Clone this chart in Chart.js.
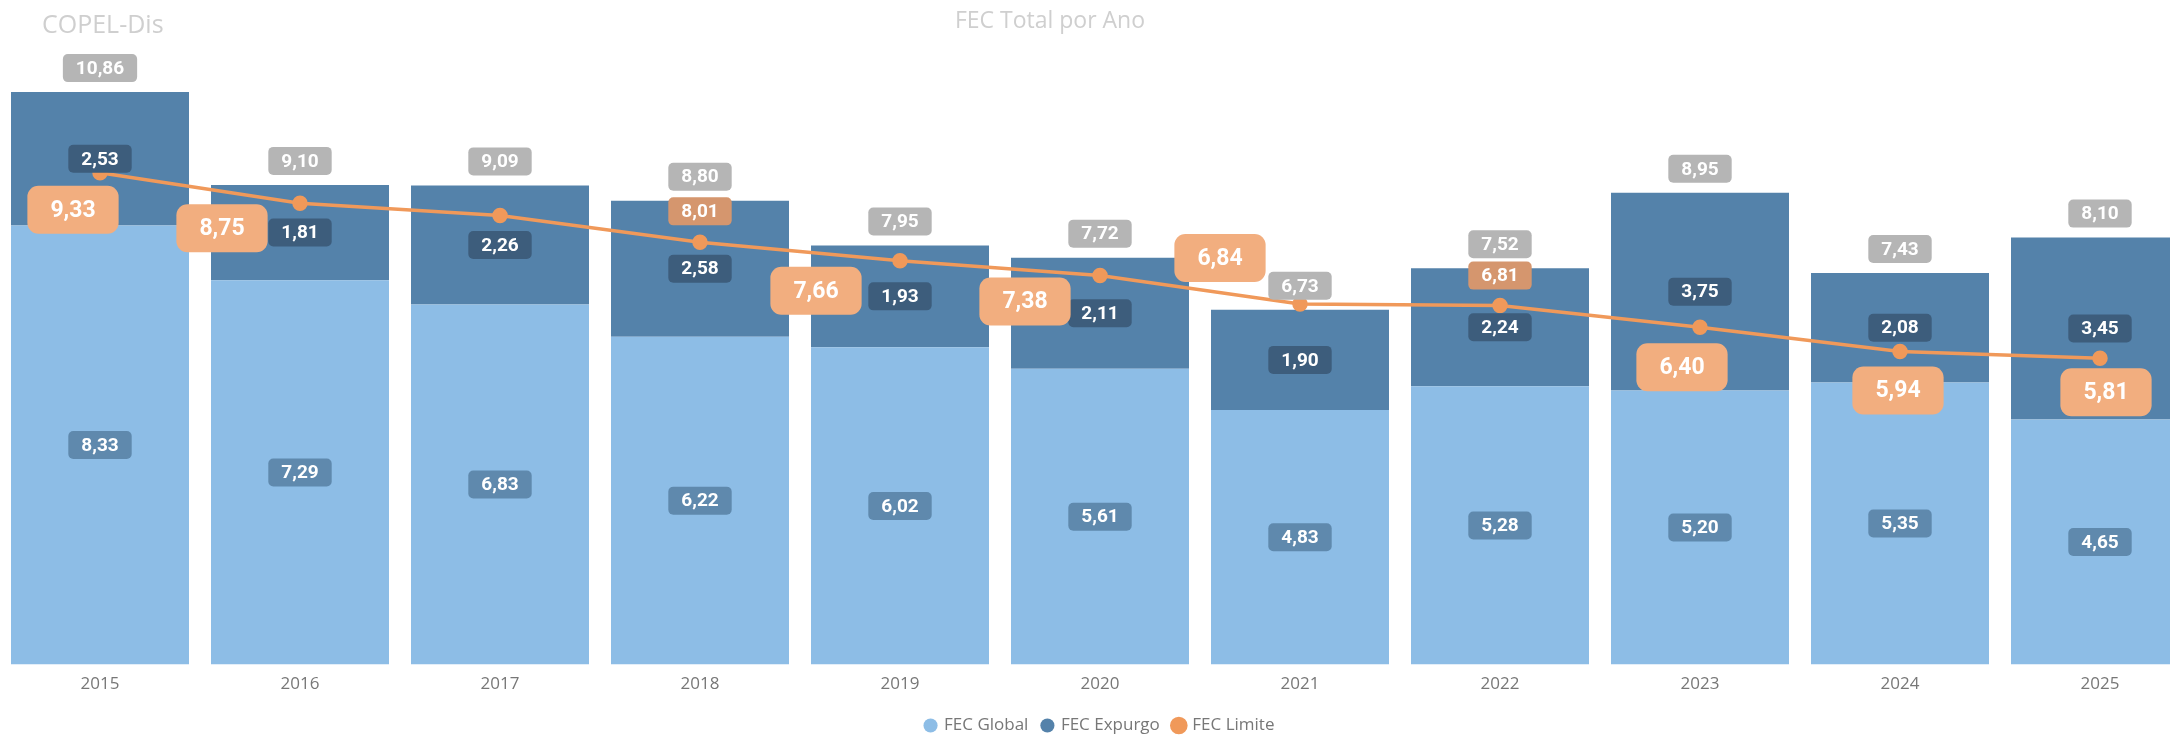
<!DOCTYPE html>
<html>
<head>
<meta charset="utf-8">
<script src="https://cdn.jsdelivr.net/npm/chart.js@4.4.1/dist/chart.umd.min.js"></script>
<style>
  html, body { margin: 0; padding: 0; background: #fff; overflow: hidden; width: 2170px; height: 739px; }
  #wrap { position: relative; width: 2200px; height: 739px; overflow: hidden; }
  .ttl { position: absolute; font-family: "Open Sans", sans-serif; color: #cfcfcf; white-space: nowrap; line-height: 1; }
</style>
</head>
<body>
<div id="wrap">
  <canvas id="fecChart" width="2200" height="744"></canvas>
  <div class="ttl" style="left:42px; top:11px; font-size:25px;">COPEL-Dis</div>
  <div class="ttl" style="left:1050px; top:8px; font-size:23px; transform:translateX(-50%);">FEC Total por Ano</div>
</div>
<script>
// dados
const anos = ['2015', '2016', '2017', '2018', '2019', '2020', '2021', '2022', '2023', '2024', '2025'];
const fecGlobal  = [8.33, 7.29, 6.83, 6.22, 6.02, 5.61, 4.83, 5.28, 5.20, 5.35, 4.65];
const fecExpurgo = [2.53, 1.81, 2.26, 2.58, 1.93, 2.11, 1.90, 2.24, 3.75, 2.08, 3.45];
const fecLimite  = [9.33, 8.75, 8.52, 8.01, 7.66, 7.38, 6.84, 6.81, 6.40, 5.94, 5.81];

// onde fica o rótulo do limite em relação ao ponto (null = sem rótulo)
const limiteTagPos = [
  { dx: -27, dy: 37 }, { dx: -78, dy: 25 }, null, { dx: 0, dy: -31, small: true },
  { dx: -84, dy: 30 }, { dx: -75, dy: 26 }, { dx: -80, dy: -46 }, { dx: 0, dy: -30, small: true },
  { dx: -18, dy: 40 }, { dx: -2, dy: 39 }, { dx: 6, dy: 34 }
];

const fmt = v => v.toFixed(2).replace('.', ',');

function tag(ctx, text, x, y, o) {
  ctx.font = o.font;
  const w = ctx.measureText(text).width + o.padX * 2;
  ctx.fillStyle = o.bg;
  ctx.beginPath();
  ctx.roundRect(x - w / 2, y - o.h / 2, w, o.h, o.r);
  ctx.fill();
  ctx.fillStyle = '#ffffff';
  ctx.textAlign = 'center';
  ctx.textBaseline = 'middle';
  ctx.fillText(text, x, y + 1);
}

const smallTag = { font: 'bold 19px Roboto', padX: 13, h: 28, r: 5 };
const bigTag = { font: 'bold 23px Roboto', padX: 23, h: 48, r: 11, bg: '#f2ae7f' };

const labelPlugin = {
  id: 'fecLabels',
  afterDatasetsDraw(chart) {
    const ctx = chart.ctx;
    const gMeta = chart.getDatasetMeta(0);
    const eMeta = chart.getDatasetMeta(1);
    const lMeta = chart.getDatasetMeta(2);
    ctx.save();
    gMeta.data.forEach((bar, i) => {
      tag(ctx, fmt(fecGlobal[i]), bar.x, (bar.y + bar.base) / 2, { ...smallTag, bg: '#5f89ad' });
    });
    eMeta.data.forEach((bar, i) => {
      tag(ctx, fmt(fecExpurgo[i]), bar.x, (bar.y + bar.base) / 2, { ...smallTag, bg: '#3d5d7c' });
      const total = fecGlobal[i] + fecExpurgo[i];
      tag(ctx, fmt(total), bar.x, bar.y - 24, { ...smallTag, bg: '#b5b5b5' });
    });
    lMeta.data.forEach((pt, i) => {
      const p = limiteTagPos[i];
      if (!p) return;
      if (p.small) tag(ctx, fmt(fecLimite[i]), pt.x + p.dx, pt.y + p.dy, { ...smallTag, bg: '#d5966e' });
      else tag(ctx, fmt(fecLimite[i]), pt.x + p.dx, pt.y + p.dy, bigTag);
    });
    ctx.restore();
  }
};

window.onload = function () {
  const ctx = document.getElementById('fecChart').getContext('2d');
  new Chart(ctx, {
    data: {
      labels: anos,
      datasets: [
        { type: 'bar', label: 'FEC Global', data: fecGlobal, backgroundColor: '#8dbde6', stack: 'fec', order: 1,
          barPercentage: 0.89, categoryPercentage: 1.0 },
        { type: 'bar', label: 'FEC Expurgo', data: fecExpurgo, backgroundColor: '#5482aa', stack: 'fec', order: 1,
          barPercentage: 0.89, categoryPercentage: 1.0 },
        { type: 'line', label: 'FEC Limite', data: fecLimite, borderColor: '#f0995a', backgroundColor: '#f0995a',
          borderWidth: 3.5, pointRadius: 6, pointHoverRadius: 6, stack: 'limite', order: 0, tension: 0 }
      ]
    },
    options: {
      responsive: false,
      animation: false,
      layout: { autoPadding: false, padding: { top: 32, bottom: 0, left: 0, right: 0 } },
      scales: {
        x: {
          stacked: true,
          grid: { display: false, drawTicks: false },
          border: { display: false },
          ticks: { color: '#777', font: { family: 'Open Sans', size: 17 }, padding: 9 }
        },
        y: { stacked: true, display: false, min: 0, max: 12 }
      },
      plugins: {
        legend: {
          position: 'bottom',
          labels: {
            usePointStyle: true, pointStyle: 'circle', boxWidth: 10, boxHeight: 10, padding: 14,
            color: '#777', font: { family: 'Open Sans', size: 17 },
            sort: (a, b) => a.datasetIndex - b.datasetIndex
          }
        },
        tooltip: { enabled: false }
      }
    },
    plugins: [labelPlugin]
  });
};
</script>
</body>
</html>
